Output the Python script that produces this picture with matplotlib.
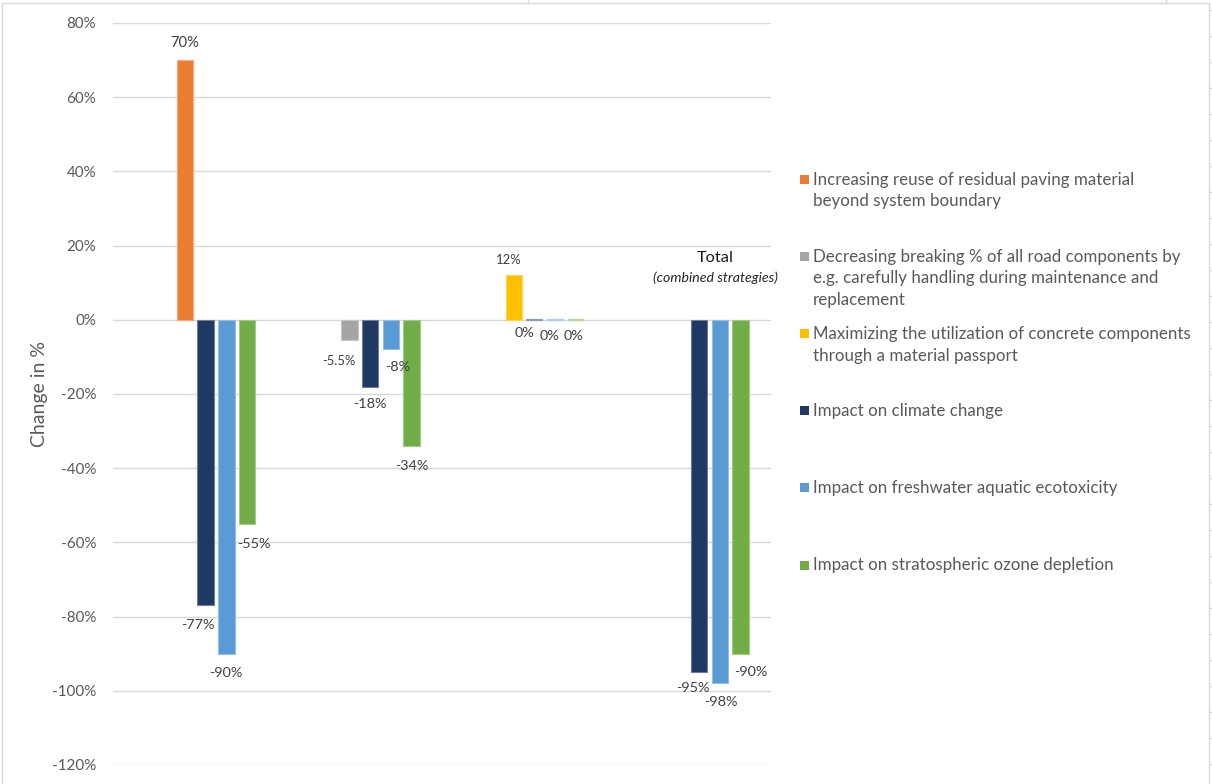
import matplotlib
matplotlib.use("Agg")
import matplotlib.pyplot as plt
from matplotlib.colors import to_rgb
from matplotlib.patches import Rectangle
from matplotlib.lines import Line2D
from matplotlib.ticker import FuncFormatter

W, H = 1212, 784
plt.rcParams["font.family"] = ["Lato", "DejaVu Sans"]
plt.rcParams["axes.unicode_minus"] = False

categories = ["Reuse", "Breaking", "Passport", "Total"]

strategy_labels = [
    "Increasing reuse of residual paving material\nbeyond system boundary",
    "Decreasing breaking % of all road components by\ne.g. carefully handling during maintenance and\nreplacement",
    "Maximizing the utilization of concrete components\nthrough a material passport",
]
strategy_values = [70, -5.5, 12]
strategy_colors = ["#ED7D31", "#A5A5A5", "#FFC000"]

impact_labels = [
    "Impact on climate change",
    "Impact on freshwater aquatic ecotoxicity",
    "Impact on stratospheric ozone depletion",
]
climate = [-77, -18, 0, -95]
freshwater = [-90, -8, 0, -98]
ozone = [-55, -34, 0, -90]
impact_colors = ["#203864", "#5B9BD5", "#70AD47"]

# hand-placed label offsets (pixels) from the bar end, like the Excel original
strategy_label_off = [(0, 17), (-10, -21), (-5, 15)]
impact_label_off = [
    [(-8, -20), (0, -17), (-10, -13), (-6, -16)],
    [(0, -19), (7, -18), (-6, -16), (1, -19)],
    [(7, -20), (0, -20), (-2, -16), (10, -18)],
]

TEXT = "#595959"
LABEL = "#404040"
GRID = "#D9D9D9"


def fx(px):
    return px / W


def fy(py):
    return 1 - py / H


def lighten(c, amt=0.35):
    r, g, b = to_rgb(c)
    return (r + (1 - r) * amt, g + (1 - g) * amt, b + (1 - b) * amt)


def pct(v):
    return f"{v:g}%"


fig = plt.figure(figsize=(W / 100, H / 100), dpi=100)
ax = fig.add_axes([fx(113), fy(765), fx(771) - fx(113), fy(23) - fy(765)])

slot = 0.1258
bar_w = 0.100


def slot_x(cat, k):
    return cat + 0.5 + (k - 2.5) * slot


# strategy bars share slot 2 of their category
for i, v in enumerate(strategy_values):
    x = slot_x(i, 2)
    ax.bar(x, v, width=bar_w, color=strategy_colors[i],
           edgecolor=lighten(strategy_colors[i]), linewidth=0.8, zorder=3)
    ax.annotate(pct(v), (x, v), xytext=strategy_label_off[i],
                textcoords="offset pixels", ha="center", va="center",
                fontsize=10.6 if v > 20 else 9.4, color=LABEL, zorder=5)

for s, vals in enumerate([climate, freshwater, ozone]):
    for i, v in enumerate(vals):
        x = slot_x(i, 3 + s)
        ax.bar(x, v, width=bar_w, color=impact_colors[s],
               edgecolor=lighten(impact_colors[s], 0.5 if v == 0 else 0.35),
               linewidth=1.6 if v == 0 else 0.8, zorder=3)
        ax.annotate(pct(v), (x, v), xytext=impact_label_off[s][i],
                    textcoords="offset pixels", ha="center", va="center",
                    fontsize=10.4, color=LABEL, zorder=5)

ax.set_xlim(0, len(categories))
ax.set_ylim(-120, 80)
ax.set_yticks(range(-120, 81, 20))
ax.yaxis.set_major_formatter(FuncFormatter(lambda v, _: f"{v:.0f}%"))
ax.set_xticks([])
ax.tick_params(axis="y", length=0, pad=12, labelsize=10.9, labelcolor=TEXT)
ax.grid(axis="y", color=GRID, linewidth=1.0, zorder=0)
for sp in ax.spines.values():
    sp.set_visible(False)

fig.text(fx(40), fy(394), "Change in %", rotation=90, ha="center", va="center",
         fontsize=14, color=TEXT)

fig.text(fx(715), fy(258), "Total", ha="center", va="center",
         fontsize=11.8, color="#1A1A1A")
fig.text(fx(715), fy(278), "(combined strategies)", ha="center", va="center",
         fontsize=10.2, style="italic", color="#262626")

# legend, evenly spaced entries
legend_labels = strategy_labels + impact_labels
legend_colors = strategy_colors + impact_colors
for i, (lab, col) in enumerate(zip(legend_labels, legend_colors)):
    y = 179.5 + 77.1 * i
    fig.patches.append(Rectangle((fx(799.5), fy(y + 4.5)), 9 / W, 9 / H,
                                 transform=fig.transFigure, facecolor=col,
                                 edgecolor="none"))
    fig.text(fx(813), fy(y - 8), lab, ha="left", va="top", fontsize=12.2,
             color=TEXT, linespacing=1.45)

# chart frame and the worksheet grid around it
fig.patches.append(Rectangle((fx(2), fy(790)), (1209 - 2) / W, (790 - 3) / H,
                             transform=fig.transFigure, facecolor="none",
                             edgecolor=GRID, linewidth=1.0))
for xs in (528, 1166):
    fig.add_artist(Line2D([fx(xs), fx(xs)], [fy(0), fy(3)], color=GRID, linewidth=1))
for yr in range(10, H, 26):
    fig.add_artist(Line2D([fx(1210), fx(1212)], [fy(yr), fy(yr)], color=GRID, linewidth=1))

fig.savefig("out.png", dpi=100)
